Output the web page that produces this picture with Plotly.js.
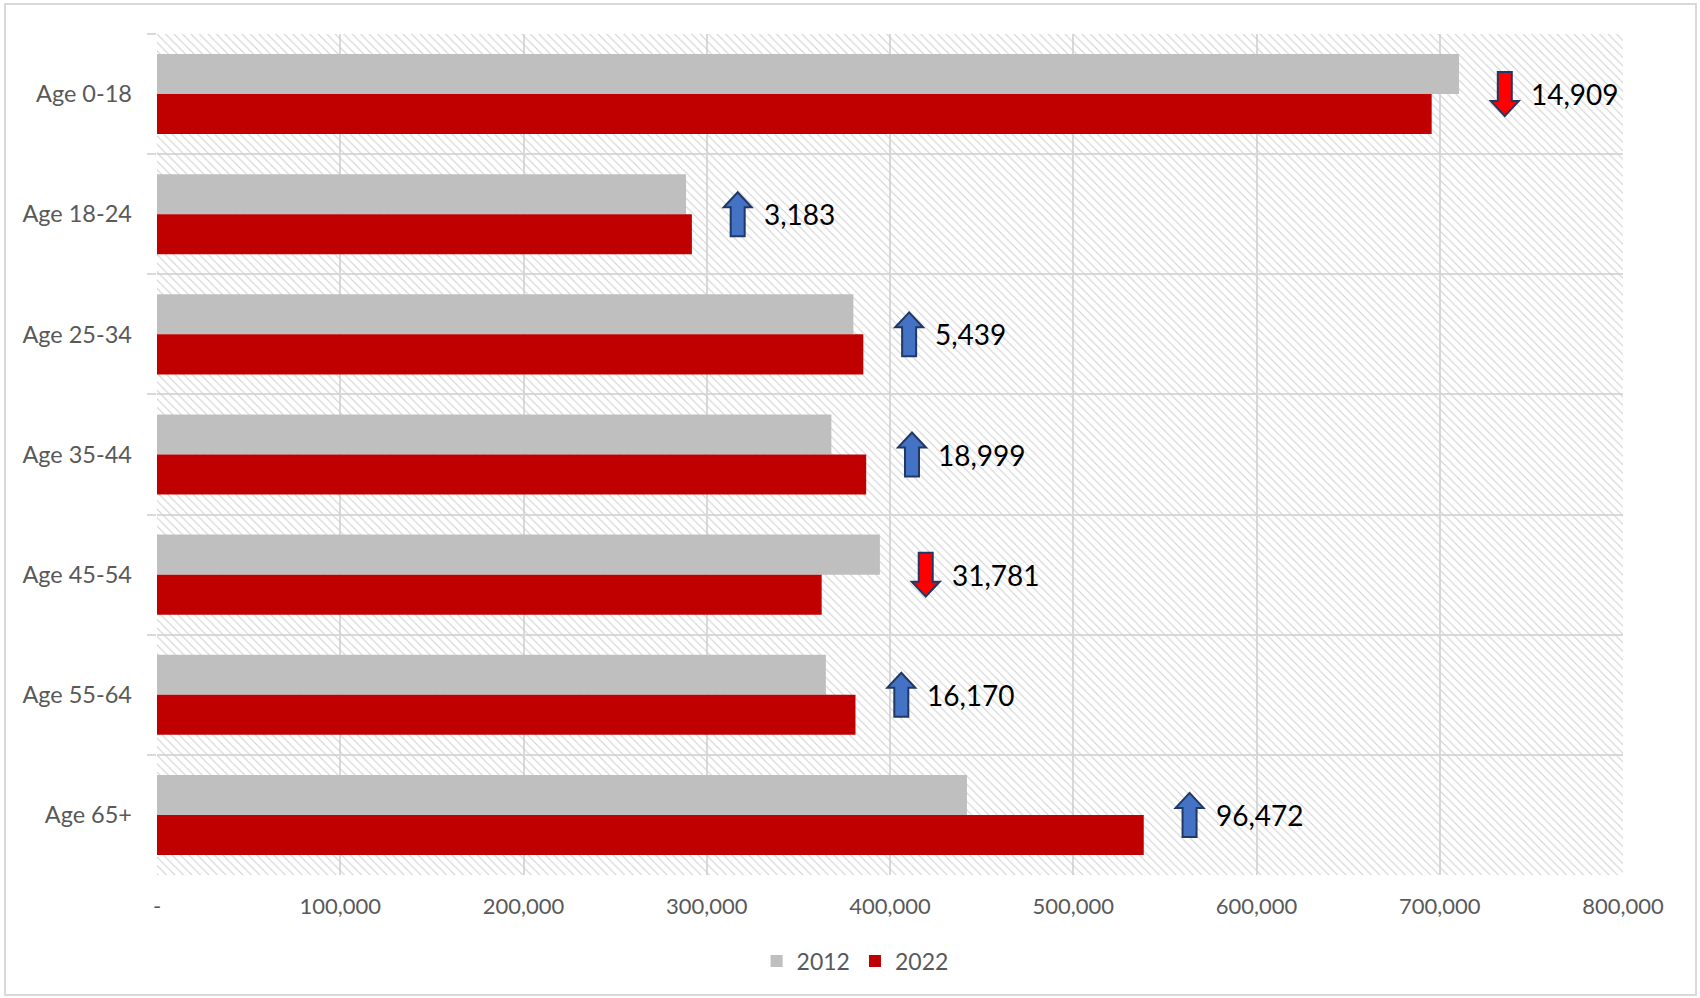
<!DOCTYPE html>
<html>
<head>
<meta charset="utf-8">
<script src="https://cdn.plot.ly/plotly-3.0.1.min.js"></script>
<style>
html,body{margin:0;padding:0;background:#ffffff;}
#chart{width:1700px;height:998px;}
</style>
</head>
<body>
<div id="chart"></div>
<script>
// ---- data ----
const categories = ['Age 0-18','Age 18-24','Age 25-34','Age 35-44','Age 45-54','Age 55-64','Age 65+'];
const values2012 = [710500, 288700, 380000, 368000, 394500, 365000, 442000];
const values2022 = [695591, 291883, 385439, 386999, 362719, 381170, 538472];
const seriesNames = ['2012', '2022'];
const xTickValues = [0, 100000, 200000, 300000, 400000, 500000, 600000, 700000, 800000];
const xTickLabels = ['-', '100,000', '200,000', '300,000', '400,000', '500,000', '600,000', '700,000', '800,000'];

// ---- styling / layout ----
const FONT = 'Lato, "Open Sans", sans-serif';
const xMax = xTickValues[xTickValues.length - 1];
const arrowGap = 25000;
const gridColor = '#d9d9d9';

const fmt = n => n.toLocaleString('en-US');

const background = {
  type: 'bar', orientation: 'h',
  y: categories, x: categories.map(() => xMax),
  offset: -0.5, width: 1,
  marker: {
    color: '#cfcfcf',
    line: {width: 0},
    pattern: {shape: '\\', size: 6, solidity: 0.18, fillmode: 'replace', bgcolor: 'rgba(0,0,0,0)'}
  },
  showlegend: false, hoverinfo: 'skip'
};

const trace2012 = {
  type: 'bar', orientation: 'h', name: seriesNames[0],
  y: categories, x: values2012,
  offset: -1/3, width: 1/3,
  marker: {color: '#bfbfbf', line: {width: 0}}
};
const trace2022 = {
  type: 'bar', orientation: 'h', name: seriesNames[1],
  y: categories, x: values2022,
  offset: 0, width: 1/3,
  marker: {color: '#c00000', line: {width: 0}}
};

const upPath = 'M-7,-22 L7,-22 L7,7 L14,7 L0,22 L-14,7 L-7,7 Z';
const downPath = 'M-7,22 L7,22 L7,-7 L14,-7 L0,-22 L-14,-7 L-7,-7 Z';

const shapes = [];
const annotations = [];
categories.forEach((cat, i) => {
  const diff = values2022[i] - values2012[i];
  const ax = Math.max(values2012[i], values2022[i]) + arrowGap;
  shapes.push({
    type: 'path', xref: 'x', yref: 'y',
    xsizemode: 'pixel', ysizemode: 'pixel',
    xanchor: ax, yanchor: cat,
    path: diff >= 0 ? upPath : downPath,
    fillcolor: diff >= 0 ? '#4472c4' : '#ff0000',
    line: {color: '#203864', width: 2},
    layer: 'above'
  });
  annotations.push({
    xref: 'x', yref: 'y', x: ax, y: cat,
    text: fmt(Math.abs(diff)), showarrow: false,
    xanchor: 'left', yanchor: 'middle', xshift: 24,
    font: {family: FONT, size: 28, color: '#000000'}
  });
});

// outer frame
shapes.push({
  type: 'rect', xref: 'paper', yref: 'paper',
  x0: -0.10368, x1: 1.04980, y0: -0.14269, y1: 1.03567,
  line: {color: '#d9d9d9', width: 2}, fillcolor: 'rgba(0,0,0,0)', layer: 'below'
});

const layout = {
  width: 1700, height: 998,
  margin: {l: 157, r: 77, t: 34, b: 123},
  paper_bgcolor: '#ffffff', plot_bgcolor: '#ffffff',
  barmode: 'overlay',
  font: {family: FONT, color: '#595959'},
  xaxis: {
    range: [0, xMax],
    tickvals: xTickValues, ticktext: xTickLabels,
    tickfont: {family: FONT, size: 22, color: '#595959'},
    showgrid: true, gridcolor: gridColor, gridwidth: 2,
    zeroline: false, showline: false, ticks: '',
    ticklabelstandoff: 16, fixedrange: true
  },
  yaxis: {
    type: 'category', categoryorder: 'array', categoryarray: categories,
    range: [categories.length - 0.5, -0.5],
    tickson: 'boundaries', ticks: 'outside', ticklen: 9, tickcolor: gridColor, tickwidth: 2,
    showgrid: true, gridcolor: gridColor, gridwidth: 2,
    zeroline: false, showline: false,
    tickfont: {family: FONT, size: 23.5, color: '#595959'},
    ticklabelstandoff: 24, fixedrange: true
  },
  legend: {
    orientation: 'h', xref: 'container', yref: 'container',
    x: 0.503, y: 0.037, xanchor: 'center', yanchor: 'middle',
    font: {family: FONT, size: 23, color: '#595959'},
    itemwidth: 30, traceorder: 'normal'
  },
  shapes: shapes,
  annotations: annotations,
  showlegend: true
};

Plotly.newPlot('chart', [background, trace2012, trace2022], layout, {displayModeBar: false, staticPlot: true});
</script>
</body>
</html>
